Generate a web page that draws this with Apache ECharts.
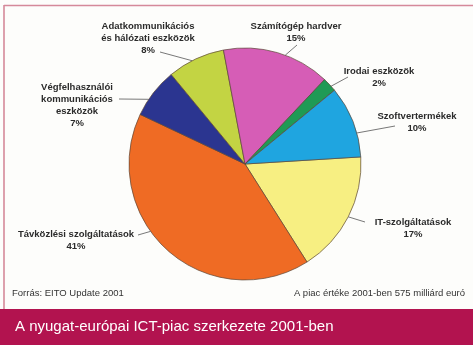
<!DOCTYPE html>
<html>
<head>
<meta charset="utf-8">
<script src="https://cdn.jsdelivr.net/npm/echarts@6/dist/echarts.min.js"></script>
<style>
  html, body { margin: 0; padding: 0; background: #fdfdfb; }
  #chart { width: 473px; height: 345px; }
</style>
</head>
<body>
<div id="chart"></div>
<script>
// Segments of the Western European ICT market, 2001 (share in %)
const categories = [
  'IT-szolgáltatások',
  'Távközlési szolgáltatások',
  'Végfelhasználói\nkommunikációs\neszközök',
  'Adatkommunikációs\nés hálózati eszközök',
  'Számítógép hardver',
  'Irodai eszközök',
  'Szoftvertermékek'
];
const shares = [17, 41, 7, 8, 15, 2, 10];
const sliceColors = ['#f7ef82', '#ef6b24', '#2b3590', '#c3d443', '#d65db6', '#1f9a55', '#1fa5e0'];

const titleText = 'A nyugat-európai ICT-piac szerkezete 2001-ben';
const sourceText = 'Forrás: EITO Update 2001';
const marketText = 'A piac értéke 2001-ben 575 milliárd euró';

// Pie geometry
const CX = 245, CY = 164, R = 116, START = 3.5;

// Label placement: block centre x, block top y, leader start point, rim-angle shift (deg)
const labelPlace = [
  { x: 413, y: 216, lx: 365, ly: 222, shift: 0 },
  { x: 76,  y: 228, lx: 138, ly: 235, shift: -13 },
  { x: 77,  y: 81,  lx: 119, ly: 99,  shift: 4 },
  { x: 148, y: 20,  lx: 160, ly: 52,  shift: 2 },
  { x: 296, y: 20,  lx: 297, ly: 45,  shift: -4 },
  { x: 379, y: 65,  lx: 348, ly: 77,  shift: -1 },
  { x: 417, y: 110, lx: 395, ly: 126, shift: -6 }
];

// Mid angle of each slice (degrees, counter-clockwise from 3 o'clock)
const total = shares.reduce((a, b) => a + b, 0);
const midAngles = [];
let acc = 0;
shares.forEach(v => {
  const a0 = START - 360 * acc / total;
  const a1 = START - 360 * (acc + v) / total;
  midAngles.push((a0 + a1) / 2);
  acc += v;
});

function rimPoint(i) {
  const a = (midAngles[i] + labelPlace[i].shift) * Math.PI / 180;
  return [CX + R * Math.cos(a), CY - R * Math.sin(a)];
}

const chart = echarts.init(document.getElementById('chart'), null, { renderer: 'canvas' });

const FONT = '"Liberation Sans", Arial, Helvetica, sans-serif';

chart.setOption({
  animation: false,
  backgroundColor: '#fdfdfb',
  graphic: [
    { type: 'line', shape: { x1: 4, y1: 5.5, x2: 473, y2: 5.5 }, style: { stroke: '#d5899a', lineWidth: 1.6 } },
    { type: 'line', shape: { x1: 4, y1: 5, x2: 4, y2: 310 }, style: { stroke: '#d5899a', lineWidth: 1.6 } },
    { type: 'rect', shape: { x: 0, y: 309, width: 473, height: 36 }, style: { fill: '#b2134f' } }
  ],
  title: [
    {
      text: titleText, left: 15, top: 319, padding: 0,
      textStyle: { color: '#ffffff', fontSize: 15, fontWeight: 'normal', fontFamily: FONT }
    },
    {
      text: sourceText, left: 12, top: 288, padding: 0,
      textStyle: { color: '#333333', fontSize: 9.5, fontWeight: 'normal', fontFamily: FONT }
    },
    {
      text: marketText, right: 8, top: 288, padding: 0,
      textStyle: { color: '#333333', fontSize: 9.5, fontWeight: 'normal', fontFamily: FONT }
    }
  ],
  series: [{
    type: 'pie',
    center: [CX, CY],
    radius: R,
    startAngle: START,
    clockwise: true,
    avoidLabelOverlap: false,
    itemStyle: { borderColor: '#5b4636', borderWidth: 0.7 },
    label: {
      show: true,
      position: 'outside',
      formatter: '{b}\n{c}%',
      color: '#2b2b2b',
      fontFamily: FONT,
      fontSize: 9.5,
      fontWeight: 'bold',
      lineHeight: 12,
      align: 'center'
    },
    labelLine: {
      show: true,
      lineStyle: { color: '#555555', width: 0.8 }
    },
    labelLayout: function (params) {
      const i = params.dataIndex;
      const p = labelPlace[i];
      const rim = rimPoint(i);
      return {
        x: p.x,
        y: p.y,
        align: 'center',
        verticalAlign: 'top',
        labelLinePoints: [rim, rim, [p.lx, p.ly]]
      };
    },
    data: categories.map((name, i) => ({
      name: name,
      value: shares[i],
      itemStyle: { color: sliceColors[i] }
    }))
  }]
});
</script>
</body>
</html>
